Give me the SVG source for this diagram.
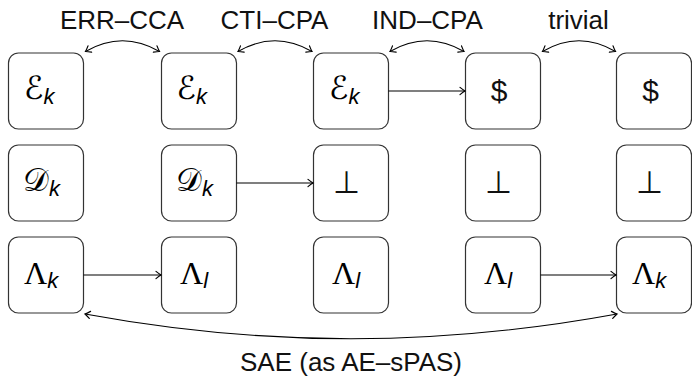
<svg xmlns="http://www.w3.org/2000/svg" width="692" height="378" viewBox="0 0 692 378">
  <style>
    .box { fill: #ffffff; stroke: #333333; stroke-width: 1.2; }
    .edge { fill: none; stroke: #000000; stroke-width: 1.1; }
    .lbl { font-family: "Liberation Sans", "DejaVu Sans", sans-serif; font-size: 26px; fill: #111111; text-anchor: middle; }
    .cal { font-family: "DejaVu Sans", "Liberation Serif", serif; font-size: 32px; fill: #000000; }
    .greek { font-family: "Liberation Serif", "DejaVu Serif", serif; font-size: 32px; fill: #000000; }
    .sub { font-family: "Liberation Sans", "DejaVu Sans", sans-serif; font-style: italic; font-size: 22px; }
    .sym { font-family: "Liberation Sans", "DejaVu Sans", sans-serif; font-size: 30px; fill: #111111; text-anchor: middle; }
    .perp { font-family: "DejaVu Sans", sans-serif; font-weight: 200; font-size: 31px; fill: #111111; text-anchor: middle; }
  </style>
  <defs>
    <marker id="tip" markerUnits="userSpaceOnUse" markerWidth="12" markerHeight="12" viewBox="-6 -6 12 12" refX="0" refY="0" orient="auto-start-reverse">
      <path d="M-5,-3.6 Q-1.6,-0.9 0,0 Q-1.6,0.9 -5,3.6" fill="none" stroke="#000000" stroke-width="1.2" stroke-linecap="round"/>
    </marker>
  </defs>

  <!-- row 1: encryption -->
  <g id="enc1"><rect class="box" x="8.5" y="53" width="75" height="76" rx="10"/><text class="cal" x="24" y="99">ℰ<tspan class="sub" dy="5">k</tspan></text></g>
  <g id="enc2"><rect class="box" x="161.5" y="53" width="75" height="76" rx="10"/><text class="cal" x="176.5" y="99">ℰ<tspan class="sub" dy="5">k</tspan></text></g>
  <g id="enc3"><rect class="box" x="313.5" y="53" width="75" height="76" rx="10"/><text class="cal" x="329" y="99">ℰ<tspan class="sub" dy="5">k</tspan></text></g>
  <g id="rand4"><rect class="box" x="465.5" y="53" width="75" height="76" rx="10"/><text class="sym" x="499" y="101">$</text></g>
  <g id="rand5"><rect class="box" x="616.5" y="53" width="75" height="76" rx="10"/><text class="sym" x="650.5" y="101">$</text></g>

  <!-- row 2: decryption -->
  <g id="dec1"><rect class="box" x="8.5" y="145" width="75" height="76" rx="10"/><text class="cal" x="23" y="191">𝒟<tspan class="sub" dy="5">k</tspan></text></g>
  <g id="dec2"><rect class="box" x="161.5" y="145" width="75" height="76" rx="10"/><text class="cal" x="176" y="191">𝒟<tspan class="sub" dy="5">k</tspan></text></g>
  <g id="bot3"><rect class="box" x="313.5" y="145" width="75" height="76" rx="10"/><text class="perp" x="346" y="193">⊥</text></g>
  <g id="bot4"><rect class="box" x="465.5" y="145" width="75" height="76" rx="10"/><text class="perp" x="498" y="193">⊥</text></g>
  <g id="bot5"><rect class="box" x="616.5" y="145" width="75" height="76" rx="10"/><text class="perp" x="649" y="193">⊥</text></g>

  <!-- row 3: key leakage -->
  <g id="lam1"><rect class="box" x="8.5" y="237" width="75" height="76" rx="10"/><text class="greek" x="24" y="284">Λ<tspan class="sub" dy="4">k</tspan></text></g>
  <g id="lam2"><rect class="box" x="161.5" y="237" width="75" height="76" rx="10"/><text class="greek" x="180" y="284">Λ<tspan class="sub" dy="4">l</tspan></text></g>
  <g id="lam3"><rect class="box" x="313.5" y="237" width="75" height="76" rx="10"/><text class="greek" x="332" y="284">Λ<tspan class="sub" dy="4">l</tspan></text></g>
  <g id="lam4"><rect class="box" x="465.5" y="237" width="75" height="76" rx="10"/><text class="greek" x="484" y="284">Λ<tspan class="sub" dy="4">l</tspan></text></g>
  <g id="lam5"><rect class="box" x="616.5" y="237" width="75" height="76" rx="10"/><text class="greek" x="632" y="284">Λ<tspan class="sub" dy="4">k</tspan></text></g>

  <!-- connectors -->
  <g id="edges">
    <path class="edge" d="M388.5,91 L465,91" marker-end="url(#tip)"/>
    <path class="edge" d="M236.5,183 L313,183" marker-end="url(#tip)"/>
    <path class="edge" d="M83.5,275 L161,275" marker-end="url(#tip)"/>
    <path class="edge" d="M540.5,275 L616,275" marker-end="url(#tip)"/>

    <path class="edge" d="M85.5,51.5 C110.5,37 134.5,37 159.5,51.5" marker-start="url(#tip)" marker-end="url(#tip)"/>
    <path class="edge" d="M238,51.5 C263,37 287,37 312,51.5" marker-start="url(#tip)" marker-end="url(#tip)"/>
    <path class="edge" d="M390,51.5 C415,37 439,37 464,51.5" marker-start="url(#tip)" marker-end="url(#tip)"/>
    <path class="edge" d="M542.5,51.5 C567,37 591,37 615.5,51.5" marker-start="url(#tip)" marker-end="url(#tip)"/>

    <path class="edge" d="M85,314 C265,347 437,347 617,314" marker-start="url(#tip)" marker-end="url(#tip)"/>
  </g>

  <!-- relation labels -->
  <g id="labels">
    <text class="lbl" x="122" y="29">ERR–CCA</text>
    <text class="lbl" x="274.5" y="29">CTI–CPA</text>
    <text class="lbl" x="427.5" y="29">IND–CPA</text>
    <text class="lbl" x="578.5" y="29">trivial</text>
    <text class="lbl" x="351" y="371">SAE (as AE–sPAS)</text>
  </g>
</svg>
